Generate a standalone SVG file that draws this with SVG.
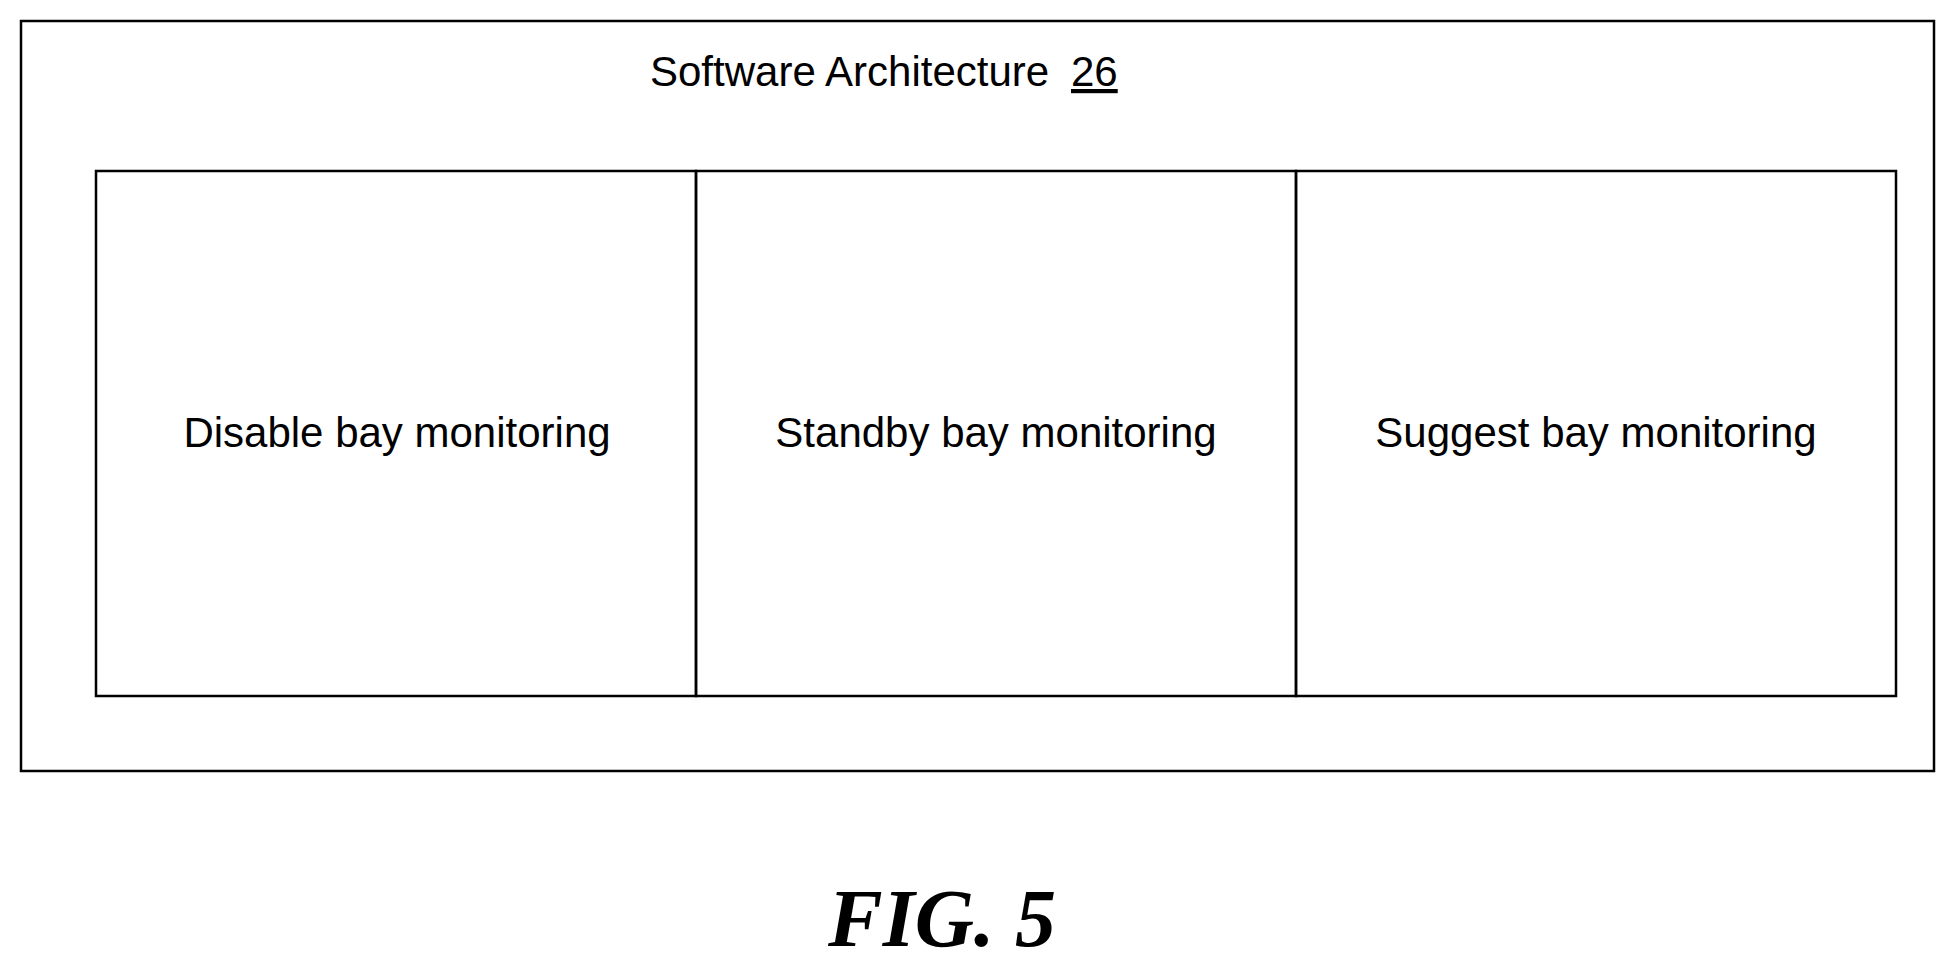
<svg xmlns="http://www.w3.org/2000/svg" width="1956" height="968" viewBox="0 0 1956 968">
<style>
.b{fill:none;stroke:#000;stroke-width:2.5}
.t{font-family:"Liberation Sans",Arial,sans-serif;font-size:42px;fill:#000}
</style>
<rect width="1956" height="968" fill="#fff"/>
<g id="software-architecture">
<rect class="b" x="21" y="21" width="1913" height="750"/>
<text class="t" x="650" y="86">Software Architecture</text>
<text class="t" x="1071" y="86" text-decoration="underline">26</text>
</g>
<g id="disable">
<rect class="b" x="96" y="171" width="600" height="525"/>
<text class="t" x="397" y="447" text-anchor="middle">Disable bay monitoring</text>
</g>
<g id="standby">
<rect class="b" x="696" y="171" width="600" height="525"/>
<text class="t" x="996" y="447" text-anchor="middle">Standby bay monitoring</text>
</g>
<g id="suggest">
<rect class="b" x="1296" y="171" width="600" height="525"/>
<text class="t" x="1596" y="447" text-anchor="middle">Suggest bay monitoring</text>
</g>
<g id="connectors"/>
<text x="942" y="946" text-anchor="middle" style="font-family:'Liberation Serif','Times New Roman',serif;font-size:82px;font-weight:bold;font-style:italic">FIG. 5</text>
</svg>
